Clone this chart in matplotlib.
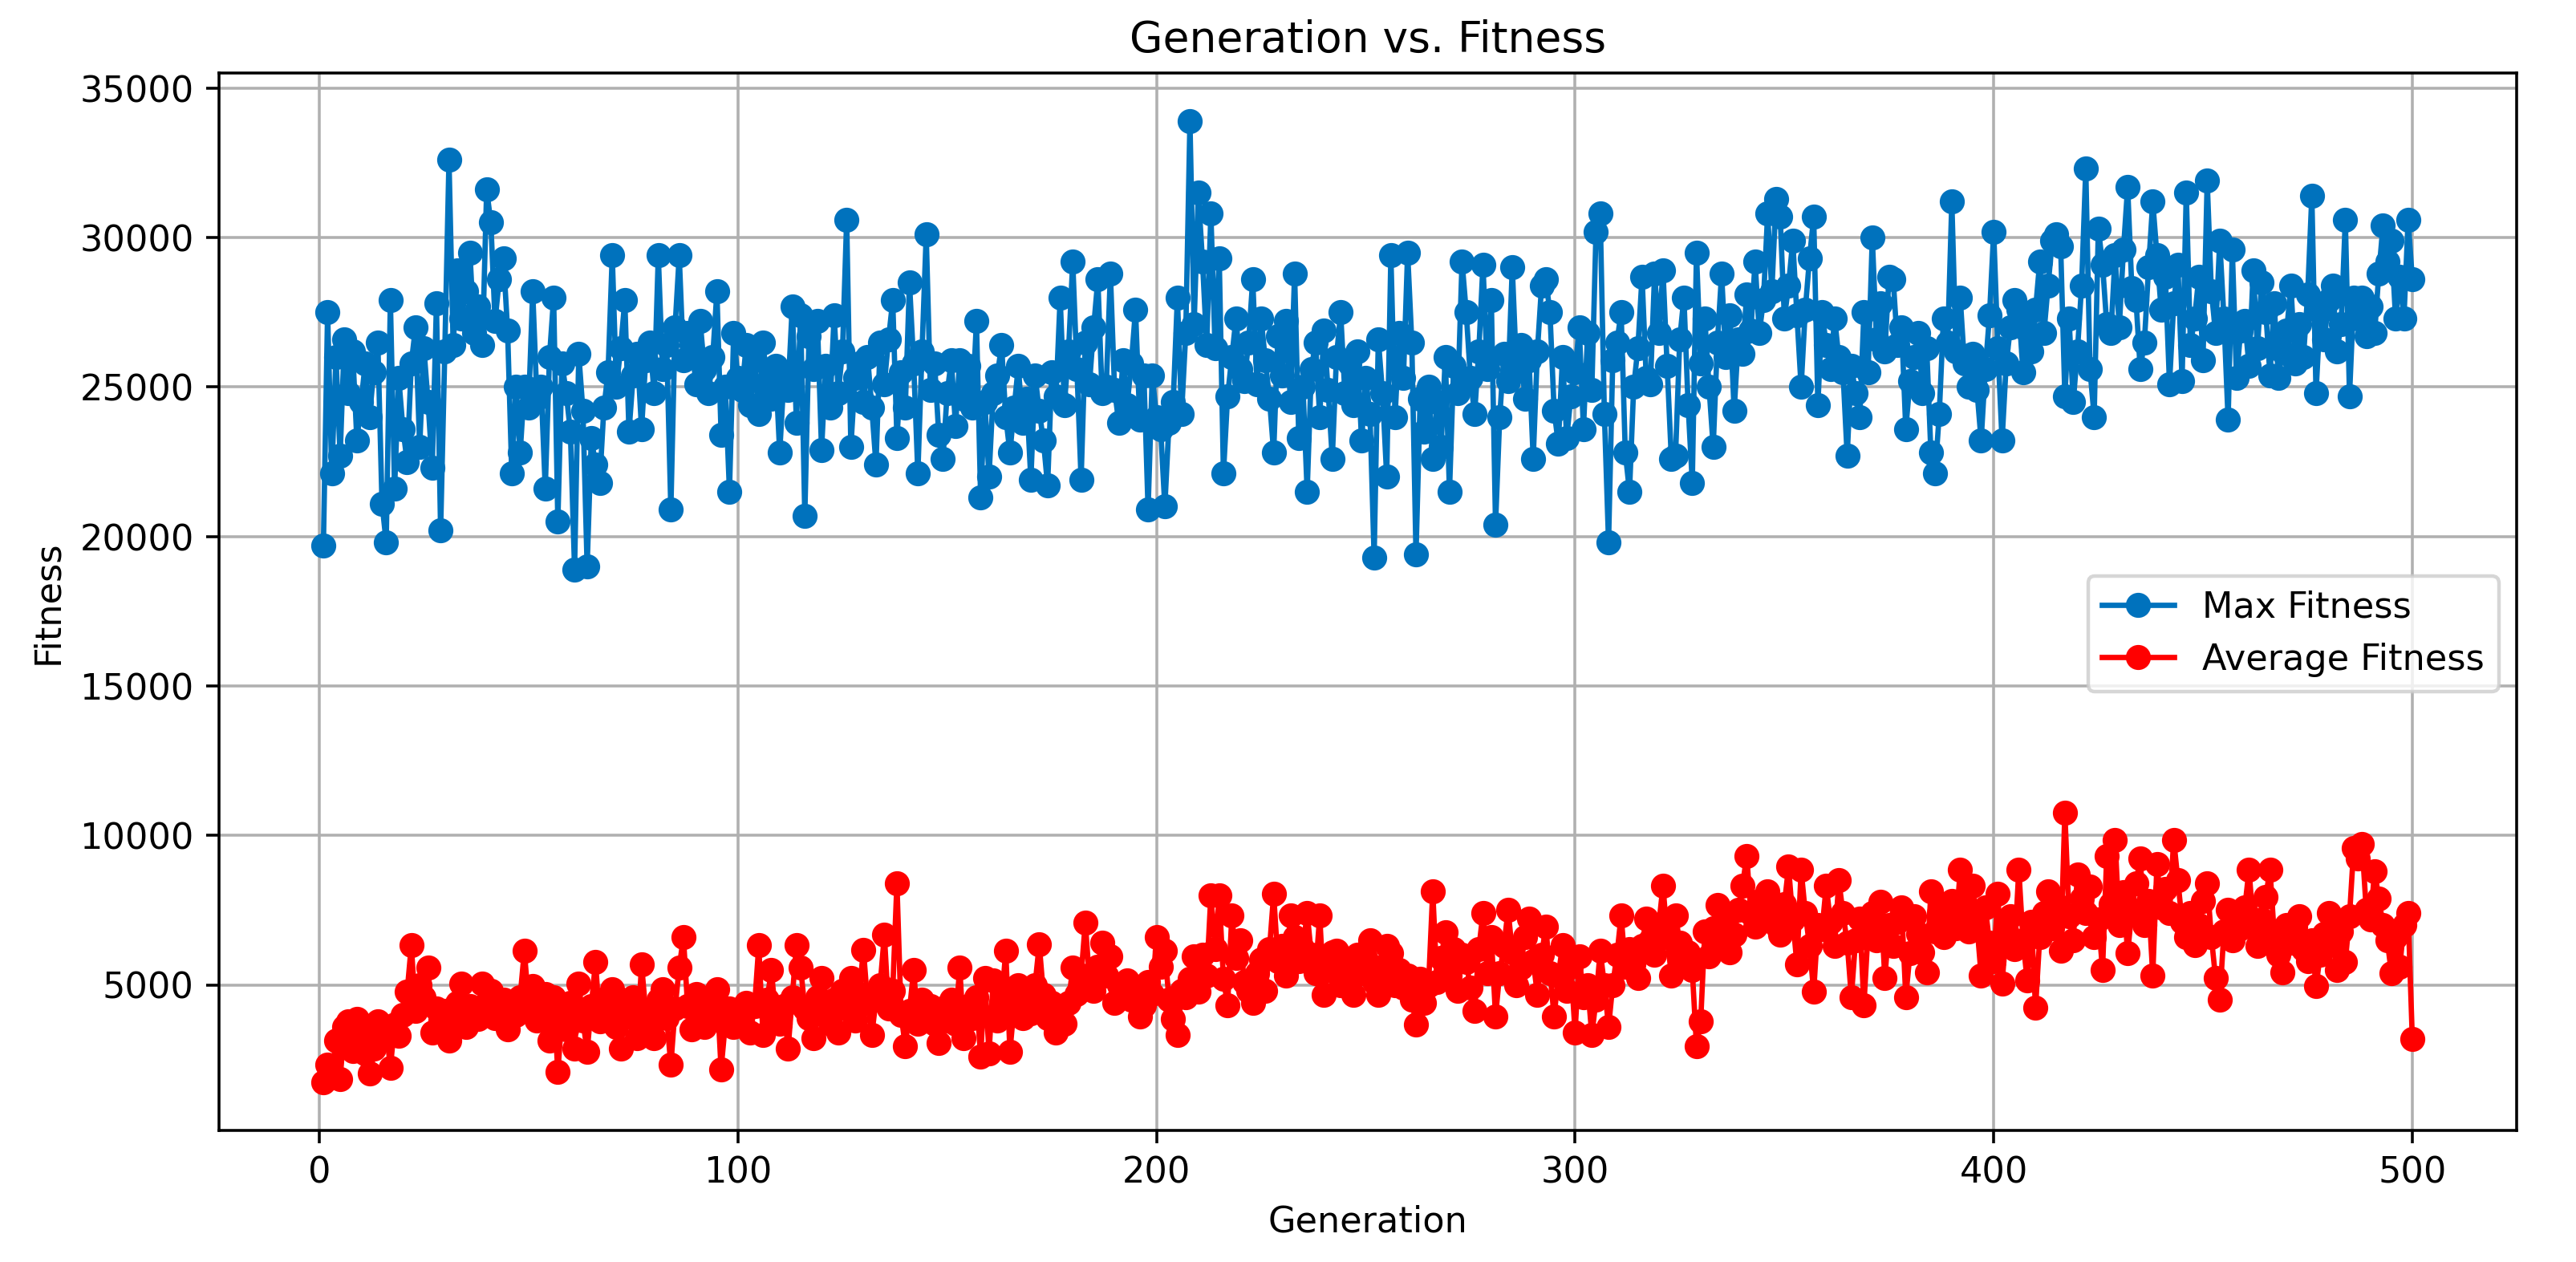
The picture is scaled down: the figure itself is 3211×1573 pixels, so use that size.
import numpy as np
import matplotlib
matplotlib.use("Agg")
import matplotlib.pyplot as plt

# ── Data (one value per generation 1..500) ───────────────────────────────────
MAX_FITNESS = [
    19700, 27500, 22100, 26000, 22700, 26600, 24800, 26200, 23200, 24500,
    25800, 24000, 25500, 26500, 21100, 19800, 27900, 21600, 25300, 23600,
    22500, 25800, 27000, 23000, 26300, 24500, 22300, 27800, 20200, 26200,
    32600, 26400, 28900, 27300, 28200, 29500, 26800, 27700, 26400, 31600,
    30500, 27200, 28600, 29300, 26900, 22100, 25000, 22800, 25000, 24300,
    28200, 24600, 25000, 21600, 26000, 28000, 20500, 25800, 24800, 23500,
    18900, 26100, 24200, 19000, 23300, 22400, 21800, 24300, 25500, 29400,
    25000, 26300, 27900, 23500, 25400, 26100, 23600, 25900, 26500, 24800,
    29400, 25600, 26400, 20900, 27000, 29400, 25900, 26800, 26400, 25100,
    27200, 25600, 24800, 26000, 28200, 23400, 25000, 21500, 26800, 25300,
    24900, 26400, 24400, 25900, 24100, 26500, 25000, 24600, 25700, 22800,
    25300, 24900, 27700, 23800, 27400, 20700, 26700, 25600, 27200, 22900,
    25700, 24300, 27400, 24800, 26200, 30600, 23000, 25300, 25800, 24500,
    26000, 24300, 22400, 26500, 25100, 26600, 27900, 23300, 25500, 24300,
    28500, 25800, 22100, 26200, 30100, 24900, 25800, 23400, 22600, 24800,
    25900, 23700, 25900, 24600, 25700, 24300, 27200, 21300, 24500, 22000,
    24800, 25400, 26400, 24000, 22800, 24300, 25700, 23800, 24600, 21900,
    25400, 24200, 23200, 21700, 25500, 24700, 28000, 24400, 26200, 29200,
    25600, 21900, 26500, 25100, 27000, 28600, 24800, 25000, 28800, 24900,
    23800, 25900, 24400, 25800, 27600, 23900, 25400, 20900, 25400, 24000,
    23600, 21000, 23800, 24500, 28000, 24100, 26800, 33900, 27100, 31500,
    29200, 26400, 30800, 26300, 29300, 22100, 24700, 26000, 27300, 25600,
    25200, 26500, 28600, 25100, 27300, 25900, 24600, 22800, 26700, 25400,
    27200, 24500, 28800, 23300, 25000, 21500, 25600, 26500, 24000, 26900,
    24900, 22600, 26000, 27500, 24800, 25800, 24400, 26200, 23200, 25300,
    24100, 19300, 26600, 24800, 22000, 29400, 24000, 26800, 25300, 29500,
    26500, 19400, 24600, 23500, 25000, 22600, 24500, 23000, 26000, 21500,
    25700, 24800, 29200, 27500, 25300, 24100, 26200, 29100, 25600, 27900,
    20400, 24000, 26100, 25200, 29000, 25600, 26400, 24600, 25900, 22600,
    26200, 28400, 28600, 27500, 24200, 23100, 26000, 23300, 24700, 25500,
    27000, 23600, 26800, 24900, 30200, 30800, 24100, 19800, 25900, 26500,
    27500, 22800, 21500, 25000, 26300, 28700, 25300, 25100, 28800, 26800,
    28900, 25700, 22600, 22700, 26600, 28000, 24400, 21800, 29500, 25800,
    27300, 25000, 23000, 26500, 28800, 26000, 27400, 24200, 26600, 26100,
    28100, 26900, 29200, 26800, 27900, 30800, 28200, 31300, 30700, 27300,
    28400, 29900, 27400, 25000, 27600, 29300, 30700, 24400, 27500, 26400,
    25600, 27300, 26000, 25500, 22700, 25700, 24800, 24000, 27500, 25500,
    30000, 26600, 27800, 26200, 28700, 28600, 26400, 27000, 23600, 25200,
    26000, 26800, 24800, 26300, 22800, 22100, 24100, 27300, 26500, 31200,
    26200, 28000, 25800, 25000, 26100, 24900, 23200, 25600, 27400, 30200,
    26300, 23200, 25800, 27000, 27900, 27600, 25500, 26900, 26200, 27600,
    29200, 26800, 28400, 29900, 30100, 29700, 24700, 27300, 24500, 26200,
    28400, 32300, 25600, 24000, 30300, 29100, 27100, 26800, 29400, 27000,
    29600, 31700, 28300, 27900, 25600, 26500, 29000, 31200, 29400, 27600,
    28700, 25100, 27800, 29100, 25200, 31500, 26400, 27300, 28700, 25900,
    31900, 28200, 26800, 29900, 27300, 23900, 29600, 25300, 26900, 27200,
    25700, 28900, 26300, 28500, 27500, 25400, 27800, 25300, 26200, 26900,
    28400, 25800, 27100, 26000, 28100, 31400, 24800, 27500, 26600, 27900,
    28400, 26200, 27100, 30600, 24700, 28000, 27300, 28000, 26700, 27700,
    26800, 28800, 30400, 29200, 29900, 27300, 28700, 27300, 30600, 28600,
]

AVG_FITNESS = [
    1730, 2320, 1900, 3140, 1860, 3600, 3770, 2800, 3860, 3300,
    2700, 2050, 2860, 3770, 3300, 3500, 2230, 3680, 3300, 4000,
    4770, 6320, 4140, 5000, 4600, 5590, 3410, 4200, 3800, 4140,
    3140, 3700, 4400, 5050, 3600, 4300, 4000, 3860, 5050, 4400,
    4800, 3900, 4200, 4500, 3500, 4300, 4000, 4600, 6140, 4400,
    4950, 3800, 4200, 4700, 3140, 4590, 2090, 4000, 3500, 4400,
    2860, 5050, 3800, 2770, 4300, 5770, 3770, 4500, 3900, 4860,
    3600, 2860, 4200, 3950, 4600, 3230, 5680, 4100, 3770, 3230,
    4500, 4860, 3900, 2320, 4200, 5590, 6590, 4300, 3500, 4700,
    4140, 3600, 4500, 3900, 4860, 2180, 3700, 4200, 3600, 4140,
    3800, 4400, 3410, 4300, 6320, 3320, 4500, 5500, 4000, 3700,
    4300, 2860, 4600, 6320, 5590, 4200, 3900, 3230, 4600, 5230,
    4100, 3700, 4500, 3410, 4800, 4200, 5230, 3800, 4700, 6180,
    4400, 3320, 4500, 5000, 6680, 4200, 4800, 8410, 4000, 2950,
    4140, 5500, 3700, 4500, 3900, 4300, 3700, 3050, 4200, 3800,
    4500, 3700, 5590, 3230, 4300, 3900, 4600, 2590, 5230, 2700,
    5140, 3800, 4400, 6140, 2770, 4300, 5000, 3900, 4600, 4050,
    5000, 6360, 4680, 3900, 4400, 3410, 4000, 3700, 4410, 5590,
    4700, 5300, 7090, 5140, 4800, 5600, 6410, 5300, 5950, 4410,
    5000, 4600, 5140, 4500, 4800, 3950, 4320, 5100, 4700, 6590,
    5600, 6140, 4500, 3860, 3320, 4800, 4600, 5200, 5950, 4770,
    6000, 5300, 8000, 6200, 8000, 5200, 4320, 7320, 5900, 6500,
    5100, 4800, 4410, 5400, 5860, 4800, 6200, 8040, 5800, 6300,
    5320, 7320, 6600, 5800, 6200, 7410, 6000, 5400, 7320, 4680,
    5500, 6100, 6140, 5000, 5700, 5300, 4680, 6000, 5400, 5900,
    6500, 5100, 4680, 5600, 6300, 6050, 5000, 5500, 4900, 5300,
    4500, 3680, 5200, 4400, 5000, 8140, 5100, 5900, 6770, 5320,
    6200, 4800, 6000, 5770, 4900, 4140, 6200, 7410, 5400, 6600,
    3950, 5400, 6300, 7500, 6100, 5000, 5590, 6600, 7230, 5800,
    4680, 6000, 6950, 5400, 3950, 5300, 6320, 4800, 5600, 3410,
    5950, 4600, 5000, 3320, 4500, 6140, 5000, 3590, 5000, 6000,
    7320, 5600, 6200, 5700, 5230, 6300, 7230, 6500, 6000, 7000,
    8320, 6600, 5320, 7320, 6410, 5800, 6100, 5500, 2950, 3770,
    6800, 5950, 6900, 7680, 6500, 7200, 6100, 6680, 7500, 8320,
    9320, 7400, 6950, 7800, 7200, 8140, 7500, 7000, 6680, 7700,
    8950, 7200, 5680, 8860, 7400, 6300, 4770, 7000, 6860, 8320,
    7100, 6300, 8500, 7400, 6410, 4590, 6500, 7230, 4320, 6800,
    7400, 6500, 7770, 5230, 7000, 6300, 7100, 7590, 4590, 6050,
    7300, 6700, 6100, 5410, 8140, 6800, 7400, 6590, 7200, 7800,
    6900, 8860, 7600, 6800, 8320, 7000, 5320, 7590, 6400, 5800,
    8040, 5050, 6800, 7300, 6200, 8860, 6500, 5140, 7100, 4230,
    6600, 7400, 8140, 6900, 7700, 6140, 10770, 7300, 6500, 8680,
    7900, 7410, 8300, 6600, 7200, 5500, 9320, 7700, 9860, 7000,
    8100, 6050, 7500, 8400, 9230, 7000, 7800, 5320, 9050, 7600,
    8200, 7410, 9860, 8500, 7100, 6600, 7400, 6320, 7000, 7800,
    8410, 6600, 5230, 4500, 6800, 7500, 6500, 7200, 6900, 7600,
    8860, 7000, 6300, 7200, 7950, 8860, 6700, 6000, 5410, 7000,
    6400, 6950, 7300, 6200, 5800, 6500, 4950, 6000, 6700, 7410,
    6400, 5500, 6800, 5770, 7300, 9590, 9230, 9700, 7500, 7200,
    8800, 7900, 7000, 6500, 5400, 6600, 5600, 7000, 7400, 3200,
]

GENERATIONS = np.arange(1, len(MAX_FITNESS) + 1)

MAX_COLOR = "#0072BD"
AVG_COLOR = "red"

# ── Chart ─────────────────────────────────────────────────────────────────────
fig = plt.figure(figsize=(10, 4.9), dpi=321.1)
ax = fig.add_axes([0.085, 0.104, 0.892, 0.838])

ax.plot(GENERATIONS, MAX_FITNESS, marker="o", color=MAX_COLOR,
        label="Max Fitness")
ax.plot(GENERATIONS, AVG_FITNESS, marker="o", color=AVG_COLOR,
        label="Average Fitness")

ax.set_title("Generation vs. Fitness")
ax.set_xlabel("Generation")
ax.set_ylabel("Fitness")
ax.grid(True)
ax.legend(loc="center right", bbox_to_anchor=(1.0, 0.47))

fig.savefig("out.png", dpi=321.1)
